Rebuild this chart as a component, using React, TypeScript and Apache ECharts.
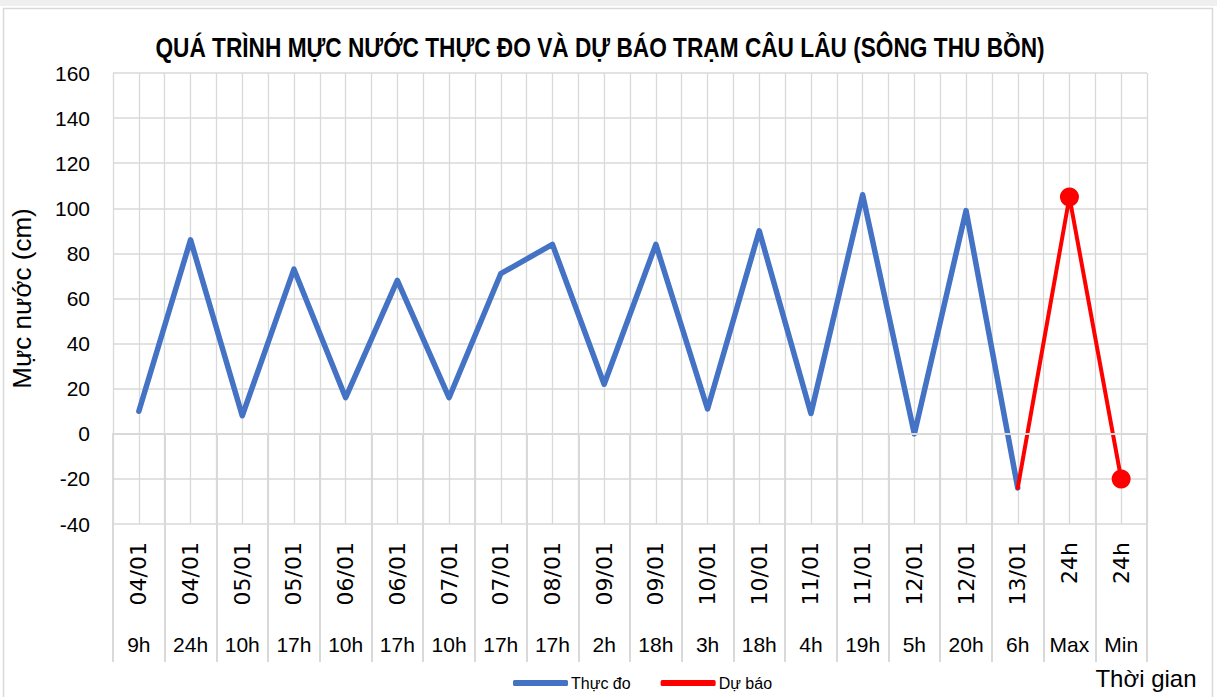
import React, { useEffect, useRef } from "react";
import * as echarts from "echarts";

const dateLabels = ["04/01","04/01","05/01","05/01","06/01","06/01","07/01","07/01","08/01","09/01","09/01","10/01","10/01","11/01","11/01","12/01","12/01","13/01","24h","24h"];
const hourLabels = ["9h","24h","10h","17h","10h","17h","10h","17h","17h","2h","18h","3h","18h","4h","19h","5h","20h","6h","Max","Min"];
const observed: (number | null)[] = [10,86,8,73,16,68,16,71,84,22,84,11,90,9,106,0,99,-24,null,null];
const forecast: (number | null)[] = [null,null,null,null,null,null,null,null,null,null,null,null,null,null,null,null,null,-24,105,-20];
const yTicks = { min: -40, max: 160, interval: 20 };

const TITLE = "QUÁ TRÌNH MỰC NƯỚC THỰC ĐO VÀ DỰ BÁO TRẠM CÂU LÂU (SÔNG THU BỒN)";
const GRID = "#d9d9d9";
const NUM_FONT = "'Liberation Sans', Arial, sans-serif";

export default function App() {
  const ref = useRef<HTMLDivElement>(null);
  useEffect(() => {
    if (!ref.current) return;
    const chart = echarts.init(ref.current, undefined, { renderer: "svg" });
    const forecastData = forecast.map((v, i) =>
      v === null ? null : i === 17 ? { value: v, symbol: "none" } : v
    );
    chart.setOption({
      animation: false,
      backgroundColor: "#ffffff",
      graphic: [
        { type: "rect", shape: { x: 0, y: 0, width: 1217, height: 6 }, style: { fill: "#efefef" }, silent: true },
        { type: "rect", shape: { x: 3.5, y: 8.5, width: 1209, height: 700 }, style: { fill: "none", stroke: GRID, lineWidth: 1.5 }, silent: true },
        {
          type: "text", x: 600, y: 47, scaleX: 0.84,
          style: { text: TITLE, fill: "#000", font: "bold 27px 'Liberation Sans', Arial, sans-serif", textAlign: "center", textVerticalAlign: "middle" },
        },
        {
          type: "text", x: 1146, y: 678,
          style: { text: "Thời gian", fill: "#000", font: "24px " + NUM_FONT, textAlign: "center", textVerticalAlign: "middle" },
        },
      ],
      grid: { left: 113, right: 70, top: 73, bottom: 173, containLabel: false },
      legend: {
        left: 508, top: 670, itemWidth: 55, itemHeight: 6, itemGap: 30, icon: "roundRect",
        textStyle: { fontSize: 16, fontFamily: NUM_FONT, color: "#000", padding: [0, 0, 0, -2] },
        data: ["Thực đo", "Dự báo"],
      },
      xAxis: [
        {
          type: "category", data: dateLabels, boundaryGap: true,
          axisLine: { show: true, lineStyle: { color: GRID, width: 2 } },
          axisTick: { show: true, length: 138, lineStyle: { color: GRID, width: 2 } },
          axisLabel: { rotate: 90, interval: 0, margin: 18, fontSize: 22, fontFamily: "'DejaVu Sans', sans-serif", color: "#000" },
          splitLine: { show: false },
          z: 5,
        },
        {
          type: "category", data: hourLabels, position: "bottom", boundaryGap: true,
          axisLine: { show: false },
          axisTick: { show: true, length: 138, lineStyle: { color: GRID, width: 2 } },
          axisLabel: { interval: 0, margin: 110, fontSize: 21, fontFamily: NUM_FONT, color: "#000" },
          splitLine: { show: false },
        },
        {
          type: "value", min: 0, max: 20, interval: 0.5, position: "top",
          axisLine: { show: false }, axisTick: { show: false }, axisLabel: { show: false },
          splitLine: { show: true, lineStyle: { color: GRID, width: 1.3 } },
        },
      ],
      yAxis: {
        type: "value", min: yTicks.min, max: yTicks.max, interval: yTicks.interval,
        name: "Mực nước (cm)", nameLocation: "middle", nameGap: 78, nameRotate: 90,
        nameTextStyle: { fontSize: 26, fontFamily: NUM_FONT, color: "#000" },
        axisLine: { show: false }, axisTick: { show: false },
        axisLabel: { margin: 23, fontSize: 21, fontFamily: NUM_FONT, color: "#000" },
        splitLine: { show: true, lineStyle: { color: GRID, width: 1.5 } },
      },
      series: [
        {
          name: "Thực đo", type: "line", xAxisIndex: 0, data: observed,
          symbol: "none", connectNulls: false,
          lineStyle: { color: "#4472c4", width: 5.5, cap: "round", join: "round" },
          itemStyle: { color: "#4472c4" }, z: 3,
        },
        {
          name: "Dự báo", type: "line", xAxisIndex: 0, data: forecastData,
          symbol: "circle", symbolSize: 19,
          lineStyle: { color: "#ff0000", width: 4, cap: "round", join: "round" },
          itemStyle: { color: "#ff0000" }, z: 4,
        },
      ],
    });
    return () => chart.dispose();
  }, []);
  return <div ref={ref} style={{ position: "absolute", left: 0, top: 0, width: 1217, height: 697 }} />;
}
